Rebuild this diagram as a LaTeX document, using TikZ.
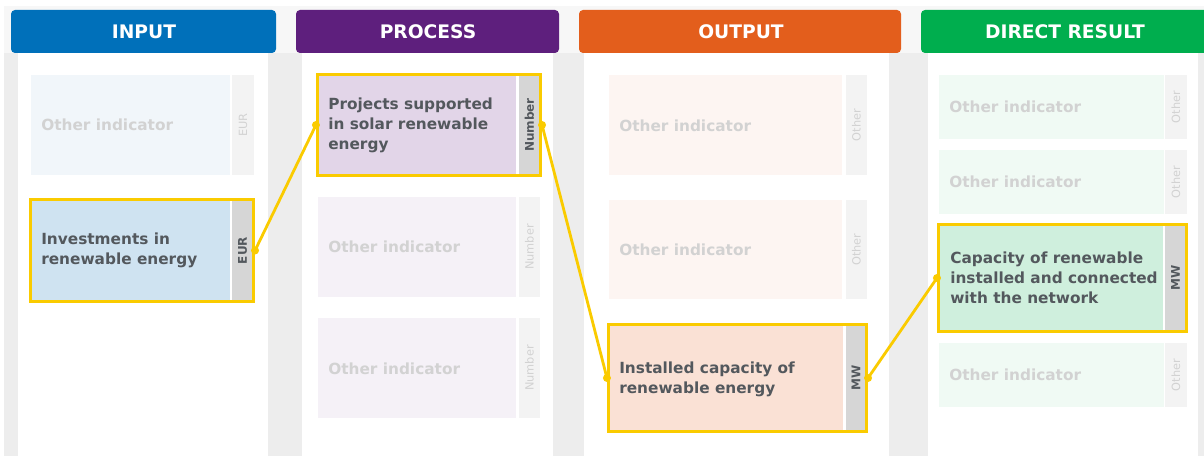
\documentclass[tikz,border=0pt]{standalone}
\usepackage{fontspec}
\setmainfont{DejaVu Sans}
\usetikzlibrary{fit, positioning}
\definecolor{inhead}{HTML}{0070BA}
\definecolor{inhl}{HTML}{CFE3F1}
\definecolor{infade}{HTML}{F1F6FA}
\definecolor{prhead}{HTML}{5E1F7D}
\definecolor{prhl}{HTML}{E2D5E8}
\definecolor{prfade}{HTML}{F5F1F7}
\definecolor{ouhead}{HTML}{E35E1C}
\definecolor{ouhl}{HTML}{FAE1D5}
\definecolor{oufade}{HTML}{FDF5F2}
\definecolor{drhead}{HTML}{00AE4E}
\definecolor{drhl}{HTML}{CFEFDD}
\definecolor{drfade}{HTML}{F0FAF4}
\definecolor{unithl}{HTML}{D6D6D6}
\definecolor{unitfade}{HTML}{F3F3F3}
\definecolor{hlyellow}{HTML}{FACB00}
\definecolor{darktxt}{HTML}{53585D}
\definecolor{fadegray}{HTML}{D2D2D2}
\definecolor{gapgray}{HTML}{EDEDED}
\definecolor{toplight}{HTML}{F7F7F7}

\begin{document}
\begin{tikzpicture}[x=0.75pt, y=-0.75pt,
    head/.style={rounded corners=3pt, inner sep=0pt},
    headtxt/.style={inner sep=0pt, text=white,
                    font=\fontsize{14}{16}\selectfont\bfseries},
    panel/.style={fill=white, inner sep=0pt},
    cell/.style={inner sep=0pt, outer sep=0pt},
    hlbox/.style={draw=hlyellow, line width=2.25pt, inner sep=0.4pt},
    celltxt/.style={anchor=west, align=left, inner sep=0pt, text=darktxt,
                    font=\fontsize{11.5}{15}\selectfont\bfseries},
    fadetxt/.style={celltxt, text=fadegray},
    unittxt/.style={rotate=90, inner sep=0pt, text=darktxt,
                    font=\fontsize{9}{10}\selectfont\bfseries},
    fadeunit/.style={rotate=90, inner sep=0pt, text=fadegray,
                     font=\fontsize{8.5}{10}\selectfont},
    link/.style={draw=hlyellow, line width=2.1pt},
    dot/.style={circle, fill=hlyellow, inner sep=0pt, minimum size=6pt},
  ]
  \useasboundingbox (0,0) rectangle (1204,456);
  \fill[white] (0,0) rectangle (1204,456);
  \fill[toplight] (4,6) rectangle (1204,53);
  \fill[gapgray] (4,53) rectangle (1204,456);

  % column panels
  \node[panel, fit={(18,45)(268,456)}] (inpan) {};
  \node[panel, fit={(302,45)(553,456)}] (prpan) {};
  \node[panel, fit={(584,45)(889,456)}] (oupan) {};
  \node[panel, fit={(928,45)(1198,456)}] (drpan) {};

  % column headers
  \node[head, fill=inhead, fit={(11,10)(276,53)}] (inhd) {};
  \node[head, fill=prhead, fit={(296,10)(559,53)}] (prhd) {};
  \node[head, fill=ouhead, fit={(579,10)(901,53)}] (ouhd) {};
  \node[head, fill=drhead, fit={(921,10)(1210,53)}] (drhd) {};
  \node[headtxt] (inhdt) at (144,32) {INPUT};
  \node[headtxt] (prhdt) at (428,32) {PROCESS};
  \node[headtxt] (ouhdt) at (741,32) {OUTPUT};
  \node[headtxt] (drhdt) at (1065,32) {DIRECT RESULT};

  % INPUT cells
  \node[cell, fill=infade, fit={(31,75)(230,175)}] (in1) {};
  \node[cell, fill=unitfade, fit={(232,75)(254,175)}] (in1u) {};
  \node[fadetxt] (in1t) at (41,125) {Other indicator};
  \node[fadeunit] (in1l) at (in1u) {EUR};

  \node[cell, fill=inhl, fit={(31,200)(230,301)}] (in2) {};
  \node[cell, fill=unithl, fit={(232,200)(253,301)}] (in2u) {};
  \node[hlbox, fit=(in2)(in2u)] (in2f) {};
  \node[celltxt] (in2t) at (41,250) {Investments in\\renewable energy};
  \node[unittxt] (in2l) at (in2u) {EUR};

  % PROCESS cells
  \node[cell, fill=prhl, fit={(318,75)(516,175)}] (pr1) {};
  \node[cell, fill=unithl, fit={(519,75)(540,175)}] (pr1u) {};
  \node[hlbox, fit=(pr1)(pr1u)] (pr1f) {};
  \node[celltxt] (pr1t) at (328,125)
      {Projects supported\\in solar renewable\\energy};
  \node[unittxt] (pr1l) at (pr1u) {Number};

  \node[cell, fill=prfade, fit={(318,197)(516,297)}] (pr2) {};
  \node[cell, fill=unitfade, fit={(519,197)(540,297)}] (pr2u) {};
  \node[fadetxt] (pr2t) at (328,247) {Other indicator};
  \node[fadeunit] (pr2l) at (pr2u) {Number};

  \node[cell, fill=prfade, fit={(318,318)(516,418)}] (pr3) {};
  \node[cell, fill=unitfade, fit={(519,318)(540,418)}] (pr3u) {};
  \node[fadetxt] (pr3t) at (328,369) {Other indicator};
  \node[fadeunit] (pr3l) at (pr3u) {Number};

  % OUTPUT cells
  \node[cell, fill=oufade, fit={(609,75)(842,175)}] (ou1) {};
  \node[cell, fill=unitfade, fit={(846,75)(867,175)}] (ou1u) {};
  \node[fadetxt] (ou1t) at (619,126) {Other indicator};
  \node[fadeunit] (ou1l) at (ou1u) {Other};

  \node[cell, fill=oufade, fit={(609,200)(842,299)}] (ou2) {};
  \node[cell, fill=unitfade, fit={(846,200)(867,299)}] (ou2u) {};
  \node[fadetxt] (ou2t) at (619,250) {Other indicator};
  \node[fadeunit] (ou2l) at (ou2u) {Other};

  \node[cell, fill=ouhl, fit={(609,325)(843,431)}] (ou3) {};
  \node[cell, fill=unithl, fit={(846,325)(866,431)}] (ou3u) {};
  \node[hlbox, fit=(ou3)(ou3u)] (ou3f) {};
  \node[celltxt] (ou3t) at (619,379)
      {Installed capacity of\\renewable energy};
  \node[unittxt] (ou3l) at (ou3u) {MW};

  % DIRECT RESULT cells
  \node[cell, fill=drfade, fit={(939,75)(1164,139)}] (dr1) {};
  \node[cell, fill=unitfade, fit={(1165,75)(1187,139)}] (dr1u) {};
  \node[fadetxt] (dr1t) at (949,107) {Other indicator};
  \node[fadeunit] (dr1l) at (dr1u) {Other};

  \node[cell, fill=drfade, fit={(939,150)(1164,214)}] (dr2) {};
  \node[cell, fill=unitfade, fit={(1165,150)(1187,214)}] (dr2u) {};
  \node[fadetxt] (dr2t) at (949,182) {Other indicator};
  \node[fadeunit] (dr2l) at (dr2u) {Other};

  \node[cell, fill=drhl, fit={(939,225)(1163,331)}] (dr3) {};
  \node[cell, fill=unithl, fit={(1165,225)(1186,331)}] (dr3u) {};
  \node[hlbox, fit=(dr3)(dr3u)] (dr3f) {};
  \node[celltxt] (dr3t) at (950,278)
      {Capacity of renewable\\installed and connected\\with the network};
  \node[unittxt] (dr3l) at (dr3u) {MW};

  \node[cell, fill=drfade, fit={(939,343)(1164,407)}] (dr4) {};
  \node[cell, fill=unitfade, fit={(1165,343)(1187,407)}] (dr4u) {};
  \node[fadetxt] (dr4t) at (949,375) {Other indicator};
  \node[fadeunit] (dr4l) at (dr4u) {Other};

  % links between highlighted indicators
  \draw[link] (in2f.east) -- (pr1f.west);
  \draw[link] (pr1f.east) -- (ou3f.west);
  \draw[link] (ou3f.east) -- (dr3f.west);
  \node[dot] (d1a) at (in2f.east) {};
  \node[dot] (d1b) at (pr1f.west) {};
  \node[dot] (d2a) at (pr1f.east) {};
  \node[dot] (d2b) at (ou3f.west) {};
  \node[dot] (d3a) at (ou3f.east) {};
  \node[dot] (d3b) at (dr3f.west) {};
\end{tikzpicture}
\end{document}
